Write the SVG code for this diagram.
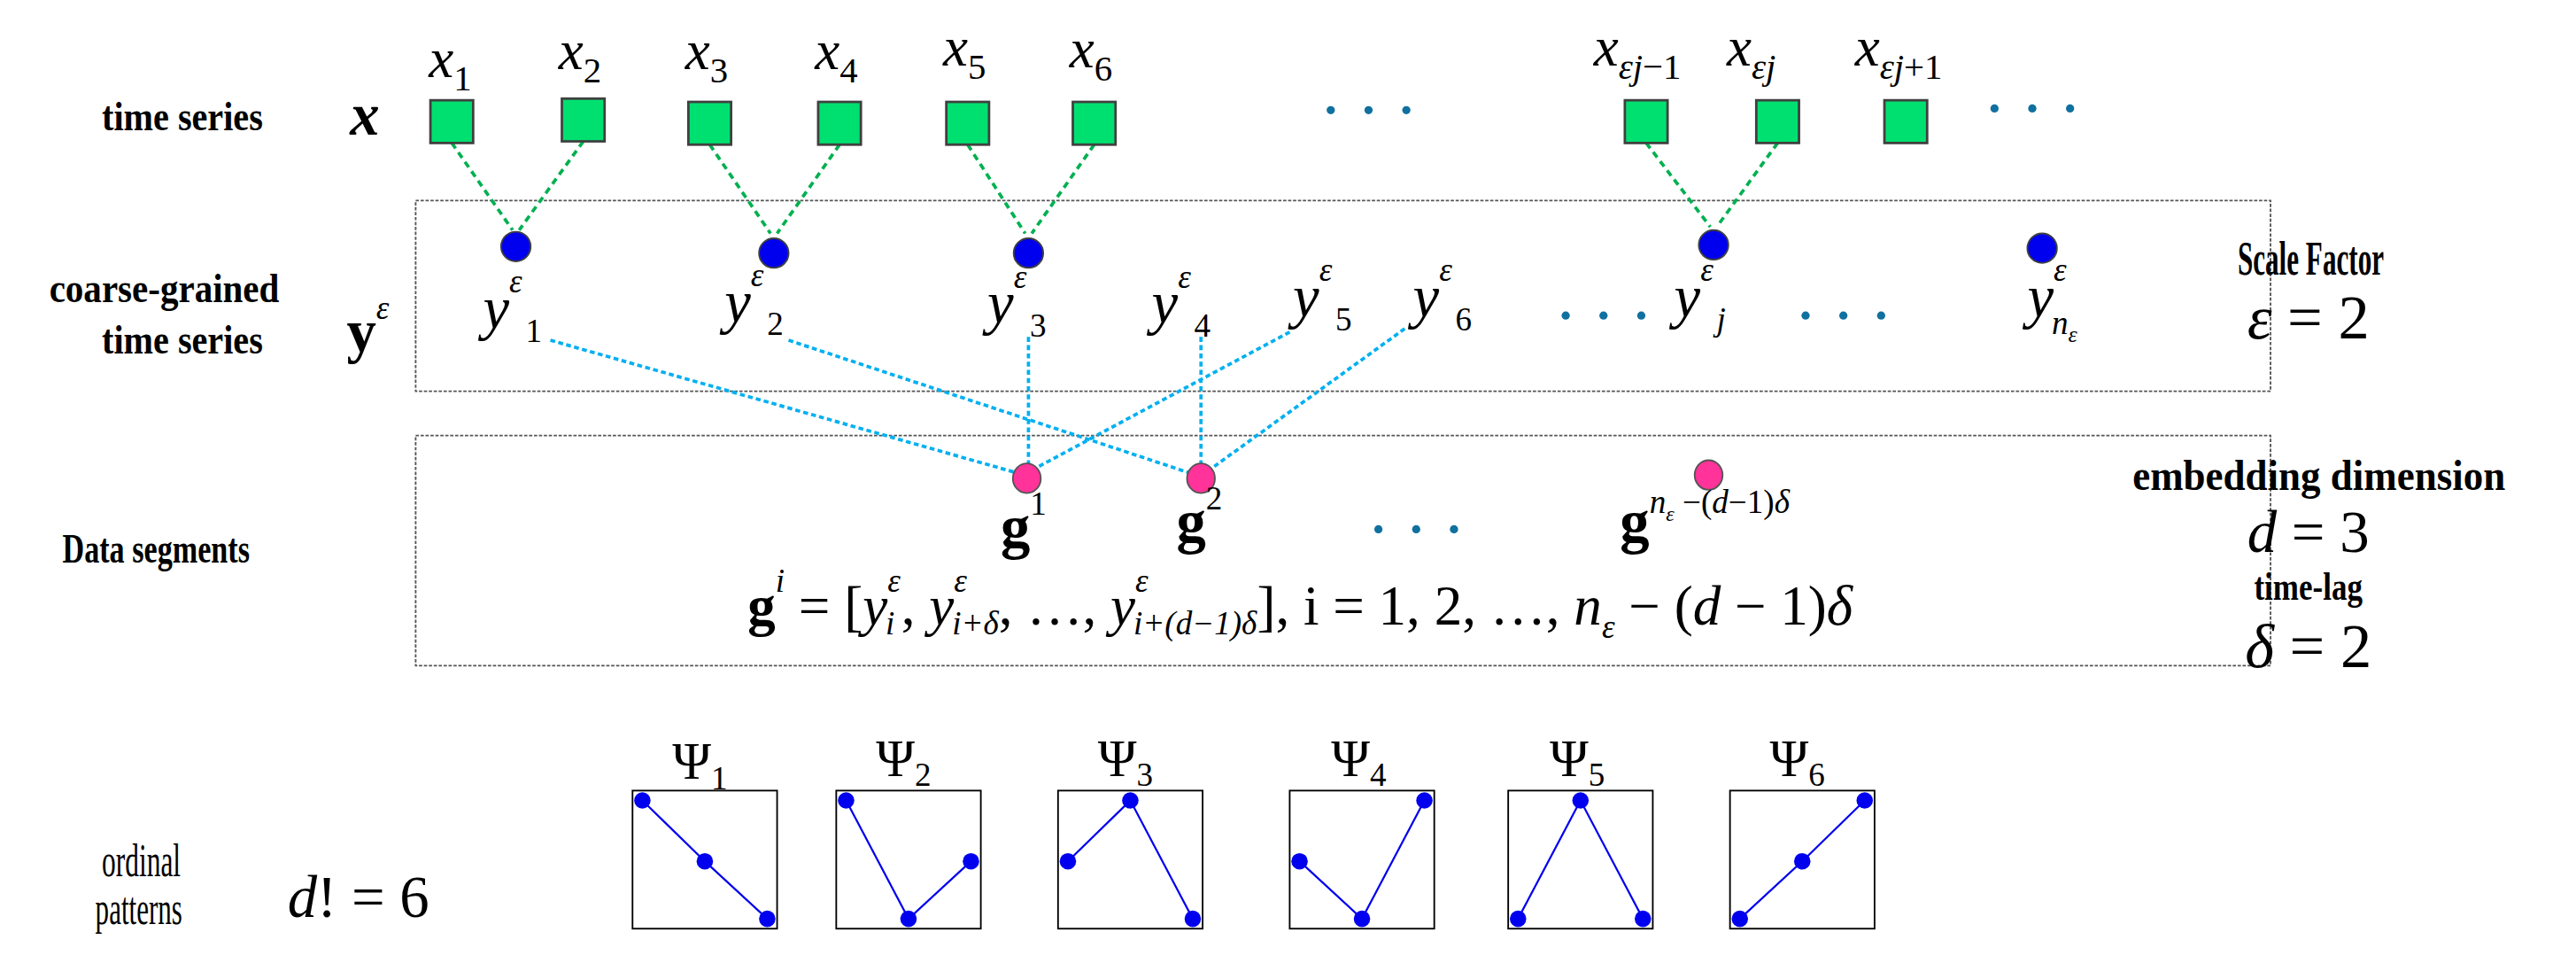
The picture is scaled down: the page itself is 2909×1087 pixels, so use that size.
<svg xmlns="http://www.w3.org/2000/svg" width="2909" height="1087" viewBox="0 0 2909 1087">
<style>
.t{font-family:"Liberation Serif",serif;fill:#000}
.b{font-weight:bold}
.i{font-style:italic}
.sq{fill:#00e070;stroke:#404040;stroke-width:1.5}
.bc{fill:#0000ee;stroke:#404040;stroke-width:1}
.pc{fill:#ff3399;stroke:#555;stroke-width:1}
.gd{stroke:#00b050;stroke-width:2;stroke-dasharray:4,3;fill:none}
.cd{stroke:#00b0f0;stroke-width:2;stroke-dasharray:3,2;fill:none}
.box{fill:none;stroke:#555;stroke-width:1;stroke-dasharray:2,1}
.pb{fill:#fff;stroke:#000;stroke-width:1}
.pl{stroke:#0000ee;stroke-width:1.2;fill:none}
.pd{fill:#0000ee}
.dots{fill:#1070a0}
</style>
<rect width="2909" height="1087" fill="#fff"/>
<g transform="scale(1.8553)">
<g id="frames">
<rect class="box" x="253" y="122" width="1129" height="116"/>
<rect class="box" x="253" y="265" width="1129" height="140"/>
</g>
<g id="connectors">
<path class="gd" d="M275 87L312 140M355 86L316 140M432 88L469 142M511 88L473 142M589 88L624 142M666 88L628 142M1002 87L1041 138M1082 87L1045 138"/>
<path class="cd" d="M335 207L620 288M626 205L626 283M785 202L630 285M480 207L725 288M731 205L731 283M855 200L736 286"/>
</g>
<g id="labels-left">
<text class="t b" x="62" y="79" font-size="25" textLength="98" lengthAdjust="spacingAndGlyphs">time series</text>
<text class="t b i" x="222" y="82" font-size="36" text-anchor="middle">x</text>
<text class="t b" x="30" y="184" font-size="25" textLength="140" lengthAdjust="spacingAndGlyphs">coarse-grained</text>
<text class="t b" x="62" y="215" font-size="25" textLength="98" lengthAdjust="spacingAndGlyphs">time series</text>
<text class="t b" x="211" y="214" font-size="36">y<tspan class="i" font-weight="normal" font-size="20" dy="-20">ε</tspan></text>
<text class="t b" x="38" y="342" font-size="25" textLength="114" lengthAdjust="spacingAndGlyphs">Data segments</text>
<text class="t" x="62" y="533" font-size="28" textLength="48" lengthAdjust="spacingAndGlyphs">ordinal</text>
<text class="t" x="58" y="562" font-size="28" textLength="53" lengthAdjust="spacingAndGlyphs">patterns</text>
<text class="t" x="175" y="558" font-size="36"><tspan class="i">d</tspan>! = 6</text>
</g>
<g id="xnodes">
<rect class="sq" x="262" y="61" width="26" height="26"/>
<rect class="sq" x="342" y="60" width="26" height="26"/>
<rect class="sq" x="419" y="62" width="26" height="26"/>
<rect class="sq" x="498" y="62" width="26" height="26"/>
<rect class="sq" x="576" y="62" width="26" height="26"/>
<rect class="sq" x="653" y="62" width="26" height="26"/>
<rect class="sq" x="989" y="61" width="26" height="26"/>
<rect class="sq" x="1069" y="61" width="26" height="26"/>
<rect class="sq" x="1147" y="61" width="26" height="26"/>
<g class="t i" font-size="34">
<text x="261" y="47">x<tspan font-style="normal" font-size="22" dy="8">1</tspan></text>
<text x="340" y="42">x<tspan font-style="normal" font-size="22" dy="8">2</tspan></text>
<text x="417" y="42">x<tspan font-style="normal" font-size="22" dy="8">3</tspan></text>
<text x="496" y="42">x<tspan font-style="normal" font-size="22" dy="8">4</tspan></text>
<text x="574" y="40">x<tspan font-style="normal" font-size="22" dy="8">5</tspan></text>
<text x="651" y="41">x<tspan font-style="normal" font-size="22" dy="8">6</tspan></text>
<text x="970" y="40">x<tspan font-size="22" dy="8">εj</tspan><tspan font-style="normal" font-size="22">−1</tspan></text>
<text x="1051" y="40">x<tspan font-size="22" dy="8">εj</tspan></text>
<text x="1129" y="40">x<tspan font-size="22" dy="8">εj</tspan><tspan font-style="normal" font-size="22">+1</tspan></text>
</g>
<g class="dots">
<circle cx="810" cy="67" r="2.5"/><circle cx="833" cy="67" r="2.5"/><circle cx="856" cy="67" r="2.5"/>
<circle cx="1214" cy="66" r="2.5"/><circle cx="1237" cy="66" r="2.5"/><circle cx="1260" cy="66" r="2.5"/>
</g>
</g>
<g id="ynodes">
<ellipse class="bc" cx="314" cy="150" rx="9" ry="9"/>
<ellipse class="bc" cx="471" cy="154" rx="9" ry="9"/>
<ellipse class="bc" cx="626" cy="154" rx="9" ry="9"/>
<ellipse class="bc" cx="1043" cy="149" rx="9" ry="9"/>
<ellipse class="bc" cx="1243" cy="151" rx="9" ry="9"/>
<g class="t i" font-size="36">
<text x="294" y="200">y<tspan font-size="20" dy="-22">ε</tspan><tspan font-style="normal" font-size="20" dx="2" dy="30">1</tspan></text>
<text x="441" y="196">y<tspan font-size="20" dy="-22">ε</tspan><tspan font-style="normal" font-size="20" dx="2" dy="30">2</tspan></text>
<text x="601" y="197">y<tspan font-size="20" dy="-22">ε</tspan><tspan font-style="normal" font-size="20" dx="2" dy="30">3</tspan></text>
<text x="701" y="197">y<tspan font-size="20" dy="-22">ε</tspan><tspan font-style="normal" font-size="20" dx="2" dy="30">4</tspan></text>
<text x="787" y="193">y<tspan font-size="20" dy="-22">ε</tspan><tspan font-style="normal" font-size="20" dx="2" dy="30">5</tspan></text>
<text x="860" y="193">y<tspan font-size="20" dy="-22">ε</tspan><tspan font-style="normal" font-size="20" dx="2" dy="30">6</tspan></text>
<text x="1019" y="193">y<tspan font-size="20" dy="-22">ε</tspan><tspan font-size="20" dx="2" dy="30">j</tspan></text>
<text x="1234" y="193">y<tspan font-size="20" dy="-22">ε</tspan><tspan font-size="20" dx="-9" dy="32">n</tspan><tspan font-size="14" dy="5">ε</tspan></text>
</g>
<g class="dots">
<circle cx="953" cy="192" r="2.5"/><circle cx="976" cy="192" r="2.5"/><circle cx="999" cy="192" r="2.5"/>
<circle cx="1099" cy="192" r="2.5"/><circle cx="1122" cy="192" r="2.5"/><circle cx="1145" cy="192" r="2.5"/>
</g>
</g>
<g id="gnodes">
<ellipse class="pc" cx="625" cy="291" rx="8.5" ry="9"/>
<ellipse class="pc" cx="731" cy="291" rx="8.5" ry="9"/>
<ellipse class="pc" cx="1040" cy="289" rx="8.5" ry="9"/>
<text class="t b" x="609" y="333" font-size="36">g<tspan font-weight="normal" font-size="20" dy="-20">1</tspan></text>
<text class="t b" x="716" y="330" font-size="36">g<tspan font-weight="normal" font-size="20" dy="-20">2</tspan></text>
<text class="t b" x="986" y="330" font-size="36">g<tspan class="i" font-weight="normal" font-size="20" dy="-18">n</tspan><tspan class="i" font-weight="normal" font-size="13" dy="5">ε</tspan><tspan font-weight="normal" font-size="20" dy="-5"> −(</tspan><tspan class="i" font-weight="normal" font-size="20">d</tspan><tspan font-weight="normal" font-size="20">−1)</tspan><tspan class="i" font-weight="normal" font-size="20">δ</tspan></text>
<g class="dots">
<circle cx="839" cy="322" r="2.5"/><circle cx="862" cy="322" r="2.5"/><circle cx="885" cy="322" r="2.5"/>
</g>
<text class="t" x="455" y="380" font-size="34"><tspan font-weight="bold">g</tspan><tspan class="i" font-size="20" dy="-20">i</tspan><tspan dy="20"> = [</tspan><tspan class="i">y</tspan><tspan class="i" font-size="20" dy="-20">ε</tspan><tspan class="i" font-size="20" dx="-9" dy="26">i</tspan><tspan dy="-6" dx="4">, </tspan><tspan class="i">y</tspan><tspan class="i" font-size="20" dy="-20">ε</tspan><tspan class="i" font-size="20" dx="-9" dy="26">i+δ</tspan><tspan dy="-6">, …, </tspan><tspan class="i">y</tspan><tspan class="i" font-size="20" dy="-20">ε</tspan><tspan class="i" font-size="20" dx="-9" dy="26">i+(d−1)δ</tspan><tspan dy="-6">],  i = 1, 2, …, </tspan><tspan class="i">n</tspan><tspan class="i" font-size="20" dy="8">ε</tspan><tspan dy="-8"> − (</tspan><tspan class="i">d</tspan><tspan> − 1)</tspan><tspan class="i">δ</tspan></text>
</g>
<g id="labels-right">
<text class="t b" x="1362" y="167" font-size="30" textLength="89" lengthAdjust="spacingAndGlyphs">Scale Factor</text>
<text class="t" x="1405" y="206" font-size="38" text-anchor="middle"><tspan class="i">ε</tspan> = 2</text>
<text class="t b" x="1298" y="298" font-size="26" textLength="227" lengthAdjust="spacingAndGlyphs">embedding dimension</text>
<text class="t" x="1405" y="336" font-size="36" text-anchor="middle"><tspan class="i">d</tspan> = 3</text>
<text class="t b" x="1372" y="365" font-size="24" textLength="66" lengthAdjust="spacingAndGlyphs">time-lag</text>
<text class="t" x="1405" y="406" font-size="38" text-anchor="middle"><tspan class="i">δ</tspan> = 2</text>
</g>
<g id="patterns">
<g class="t" font-size="32" text-anchor="middle">
<text x="426" y="474">Ψ<tspan font-size="20" dy="6">1</tspan></text>
<text x="550" y="472">Ψ<tspan font-size="20" dy="6">2</tspan></text>
<text x="685" y="472">Ψ<tspan font-size="20" dy="6">3</tspan></text>
<text x="827" y="472">Ψ<tspan font-size="20" dy="6">4</tspan></text>
<text x="960" y="472">Ψ<tspan font-size="20" dy="6">5</tspan></text>
<text x="1094" y="472">Ψ<tspan font-size="20" dy="6">6</tspan></text>
</g>
<g id="p1" transform="translate(385,481)"><rect class="pb" width="88" height="84"/><path class="pl" d="M6 6L44 43L82 78"/><circle class="pd" cx="6" cy="6" r="5"/><circle class="pd" cx="44" cy="43" r="5"/><circle class="pd" cx="82" cy="78" r="5"/></g>
<g id="p2" transform="translate(509,481)"><rect class="pb" width="88" height="84"/><path class="pl" d="M6 6L44 78L82 43"/><circle class="pd" cx="6" cy="6" r="5"/><circle class="pd" cx="44" cy="78" r="5"/><circle class="pd" cx="82" cy="43" r="5"/></g>
<g id="p3" transform="translate(644,481)"><rect class="pb" width="88" height="84"/><path class="pl" d="M6 43L44 6L82 78"/><circle class="pd" cx="6" cy="43" r="5"/><circle class="pd" cx="44" cy="6" r="5"/><circle class="pd" cx="82" cy="78" r="5"/></g>
<g id="p4" transform="translate(785,481)"><rect class="pb" width="88" height="84"/><path class="pl" d="M6 43L44 78L82 6"/><circle class="pd" cx="6" cy="43" r="5"/><circle class="pd" cx="44" cy="78" r="5"/><circle class="pd" cx="82" cy="6" r="5"/></g>
<g id="p5" transform="translate(918,481)"><rect class="pb" width="88" height="84"/><path class="pl" d="M6 78L44 6L82 78"/><circle class="pd" cx="6" cy="78" r="5"/><circle class="pd" cx="44" cy="6" r="5"/><circle class="pd" cx="82" cy="78" r="5"/></g>
<g id="p6" transform="translate(1053,481)"><rect class="pb" width="88" height="84"/><path class="pl" d="M6 78L44 43L82 6"/><circle class="pd" cx="6" cy="78" r="5"/><circle class="pd" cx="44" cy="43" r="5"/><circle class="pd" cx="82" cy="6" r="5"/></g>
</g>
</g>
</svg>
